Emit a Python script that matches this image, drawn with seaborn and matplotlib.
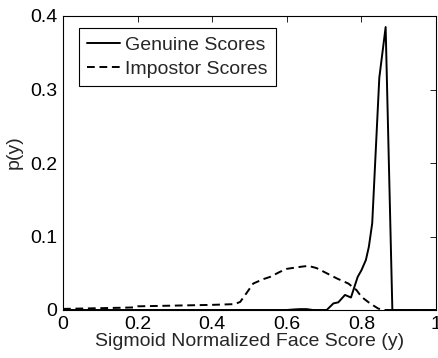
import matplotlib
matplotlib.use("Agg")
import matplotlib.pyplot as plt
import seaborn as sns
import pandas as pd
from matplotlib.ticker import FuncFormatter

genuine_x = [0.0, 0.60, 0.62, 0.635, 0.653, 0.67, 0.707, 0.725, 0.738, 0.756, 0.772,
             0.79, 0.80, 0.812, 0.82, 0.829, 0.848, 0.865, 0.883, 1.0]
genuine_y = [0.0, 0.0, 0.0008, 0.0012, 0.0012, 0.0, 0.0, 0.009, 0.0104, 0.0205, 0.017,
             0.045, 0.054, 0.068, 0.086, 0.118, 0.316, 0.385, 0.0, 0.0]

impostor_x = [0.0, 0.05, 0.10, 0.15, 0.19, 0.20, 0.30, 0.40, 0.46, 0.475, 0.492, 0.51,
              0.537, 0.555, 0.582, 0.60, 0.64, 0.658, 0.68, 0.707, 0.734, 0.765, 0.787,
              0.80, 0.823, 0.845, 0.86, 1.0]
impostor_y = [0.0015, 0.002, 0.0025, 0.003, 0.0035, 0.005, 0.006, 0.007, 0.008, 0.011,
              0.023, 0.036, 0.042, 0.045, 0.052, 0.056, 0.059, 0.060, 0.057, 0.050,
              0.043, 0.036, 0.027, 0.018, 0.009, 0.002, 0.0, 0.0]

x_ticks = [0, 0.2, 0.4, 0.6, 0.8, 1]
y_ticks = [0, 0.1, 0.2, 0.3, 0.4]
labels = ["Genuine Scores", "Impostor Scores"]

sns.set_style("white")
plt.rcParams['font.family'] = ['Liberation Sans', 'DejaVu Sans']
plt.rcParams['xtick.direction'] = 'in'
plt.rcParams['ytick.direction'] = 'in'

FS = 14
fig = plt.figure(figsize=(4.38, 3.58), dpi=100)
ax = fig.add_axes([63/438, 1-310/358, (436-63)/438, (310-16)/358])

df_g = pd.DataFrame({"x": genuine_x, "y": genuine_y})
df_i = pd.DataFrame({"x": impostor_x, "y": impostor_y})
sns.lineplot(data=df_g, x="x", y="y", ax=ax, color="black", lw=1.4,
             label=labels[0], sort=False)
sns.lineplot(data=df_i, x="x", y="y", ax=ax, color="black", lw=1.4,
             label=labels[1], sort=False)
ax.lines[1].set_dashes((4, 2.4))

ax.set_xlim(0, 1)
ax.set_ylim(0, 0.4)
ax.set_xticks(x_ticks)
ax.set_yticks(y_ticks)
fmt = FuncFormatter(lambda v, p: "%g" % v)
ax.xaxis.set_major_formatter(fmt)
ax.yaxis.set_major_formatter(fmt)
ax.tick_params(axis='both', which='major', labelsize=FS, length=4, width=0.6,
               top=True, right=True, colors='black')
ax.tick_params(axis='x', pad=4)
ax.tick_params(axis='y', pad=4)
for s in ax.spines.values():
    s.set_visible(True)
    s.set_color('black')
    s.set_linewidth(0.8)
ax.set_xlabel("Sigmoid Normalized Face Score (y)", fontsize=FS, labelpad=0)
ax.set_ylabel("p(y)", fontsize=FS)
ax.yaxis.set_label_coords((23-63)/373, (310-152)/294)

leg = ax.legend(loc="upper left", bbox_to_anchor=(16/373, 1-12/294), fontsize=FS,
                frameon=True, fancybox=False, edgecolor="black", framealpha=1,
                handlelength=1.7, handletextpad=0.26, borderpad=0.42,
                labelspacing=0.32, borderaxespad=0)
leg.get_frame().set_linewidth(0.8)
for h in leg.get_lines():
    h.set_color("black")
leg.get_lines()[1].set_dashes((4, 2.4))

fig.savefig("out.png", dpi=100)
